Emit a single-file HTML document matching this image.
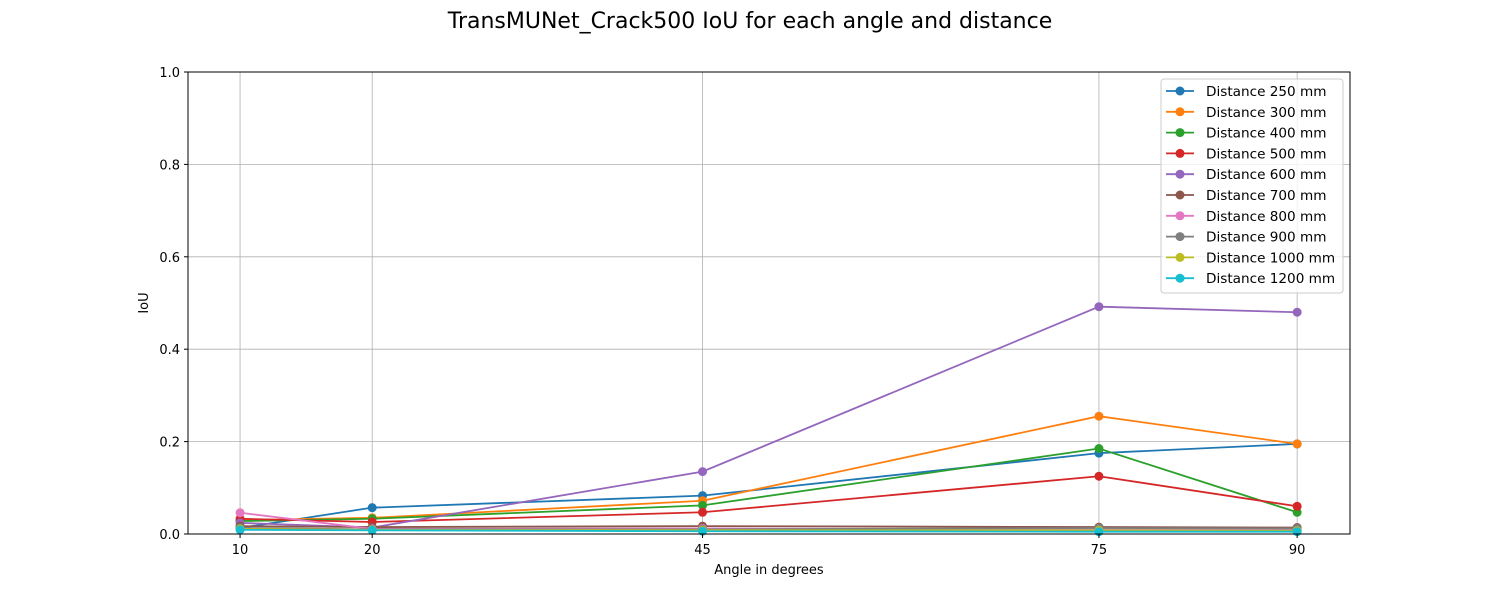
<!DOCTYPE html>
<html><head><meta charset="utf-8"><style>
body{margin:0;background:#fff;font-family:"Liberation Sans","DejaVu Sans",sans-serif}
svg text{font-family:"DejaVu Sans","Liberation Sans",sans-serif}
</style></head><body>
<svg id="chart" width="1500" height="600" xmlns="http://www.w3.org/2000/svg">
<text x="750" y="28" font-size="22" text-anchor="middle">TransMUNet_Crack500 IoU for each angle and distance</text>
<g id="grid"></g><g id="series"></g><g id="axes"></g><g id="legend"></g>
</svg>
<script>
const angles=[10,20,45,75,90];
const seriesNames=["Distance 250 mm","Distance 300 mm","Distance 400 mm","Distance 500 mm","Distance 600 mm","Distance 700 mm","Distance 800 mm","Distance 900 mm","Distance 1000 mm","Distance 1200 mm"];
const d250=[0.013,0.057,0.083,0.175,0.195];
const d300=[0.030,0.035,0.072,0.255,0.195];
const d400=[0.028,0.033,0.062,0.185,0.047];
const d500=[0.033,0.026,0.047,0.125,0.060];
const d600=[0.024,0.014,0.135,0.492,0.480];
const d700=[0.017,0.015,0.017,0.015,0.014];
const d800=[0.046,0.011,0.012,0.010,0.009];
const d900=[0.013,0.010,0.010,0.013,0.012];
const d1000=[0.011,0.009,0.008,0.008,0.007];
const d1200=[0.009,0.008,0.006,0.005,0.005];
const yTicks=[0,0.2,0.4,0.6,0.8,1.0];
const colors=["#1f77b4","#ff7f0e","#2ca02c","#d62728","#9467bd","#8c564b","#e377c2","#7f7f7f","#bcbd22","#17becf"];
const allSeries=[d250,d300,d400,d500,d600,d700,d800,d900,d1000,d1200];
const L=188,R=1350,T=72,B=534,xmin=6.06,xmax=94;
const X=v=>L+(v-xmin)/(xmax-xmin)*(R-L);
const Y=v=>B-v*(B-T);
const NS="http://www.w3.org/2000/svg";
function mk(tag,attrs,parent,text){const e=document.createElementNS(NS,tag);for(const k in attrs)e.setAttribute(k,attrs[k]);if(text!==undefined)e.textContent=text;parent.appendChild(e);return e;}
const grid=document.getElementById('grid'),axes=document.getElementById('axes'),ser=document.getElementById('series'),leg=document.getElementById('legend');
angles.forEach(a=>{
 const g=mk('line',{x1:X(a),x2:X(a),y1:T,y2:B,stroke:'#b0b0b0','stroke-width':0.8},grid);
 
 
 mk('line',{x1:X(a),x2:X(a),y1:B,y2:B+4,stroke:'#000'},axes);
 const t=mk('text',{x:X(a),y:B+20,'font-size':13,'text-anchor':'middle'},axes,String(a));
 
 
});
yTicks.forEach(v=>{
 const g=mk('line',{x1:L,x2:R,y1:Y(v),y2:Y(v),stroke:'#b0b0b0','stroke-width':0.8},grid);
 
 
 mk('line',{x1:L-4,x2:L,y1:Y(v),y2:Y(v),stroke:'#000'},axes);
 const t=mk('text',{x:L-8,y:Y(v)+5,'font-size':13,'text-anchor':'end'},axes,v.toFixed(1));
 
 
});
const fr=mk('rect',{x:L,y:T,width:R-L,height:B-T,fill:'none',stroke:'#000','stroke-width':1},axes);


const xt=mk('text',{x:(L+R)/2,y:574,'font-size':13,'text-anchor':'middle'},axes,'Angle in degrees');


const yt=mk('text',{x:148,y:(T+B)/2,'font-size':13,'text-anchor':'middle',transform:`rotate(-90 148 ${(T+B)/2})`},axes,'IoU');


allSeries.forEach((s,i)=>{
 const p=mk('polyline',{points:s.map((v,j)=>X(angles[j])+','+Y(v)).join(' '),fill:'none',stroke:colors[i],'stroke-width':1.8},ser);
 
 
 s.forEach((v,j)=>{
  const c=mk('circle',{cx:X(angles[j]),cy:Y(v),r:4.5,fill:colors[i]},ser);
  
  
 });
});
const lb=mk('rect',{x:1161,y:79,width:182,height:214,rx:3,fill:'#fff','fill-opacity':0.8,stroke:'#ccc'},leg);


seriesNames.forEach((n,i)=>{
 const y=91+i*20.8;
 const g=mk('g',{},leg);
 
 
 mk('line',{x1:1166,x2:1194,y1:y,y2:y,stroke:colors[i],'stroke-width':1.8},g);
 mk('circle',{cx:1180,cy:y,r:4.5,fill:colors[i]},g);
 mk('text',{x:1206,y:y+5,'font-size':13.6},g,n);
});
</script>
</body></html>
